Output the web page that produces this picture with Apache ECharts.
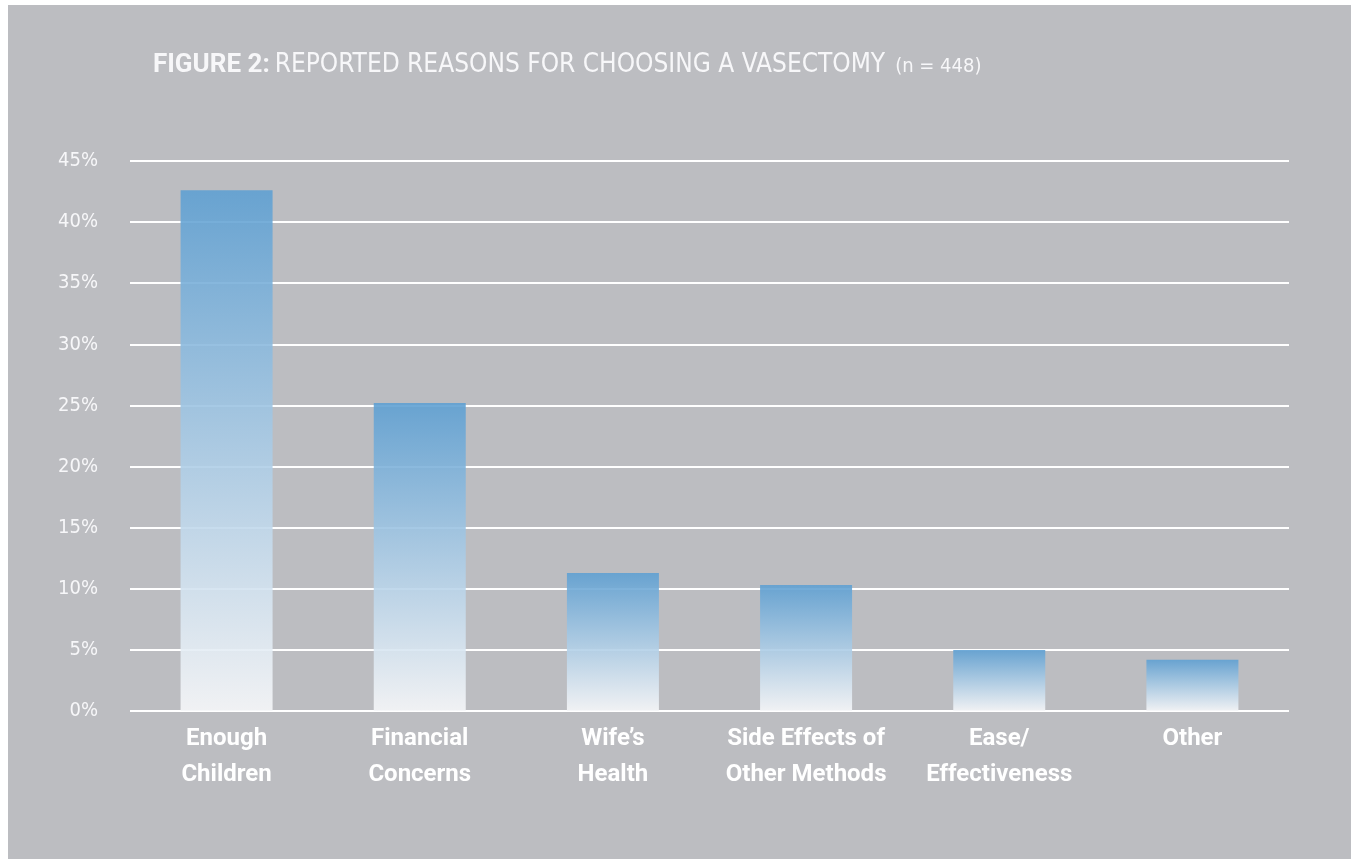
<!DOCTYPE html>
<html>
<head>
<meta charset="utf-8">
<title>Reported reasons for choosing a vasectomy</title>
<script src="https://cdn.jsdelivr.net/npm/echarts@6/dist/echarts.min.js"></script>
<style>
  html, body { margin: 0; padding: 0; background: #ffffff; }
  #wrap { position: relative; width: 1351px; height: 859px; background: #ffffff; overflow: hidden; }
  #chart { position: absolute; left: 8px; top: 5px; width: 1343px; height: 854px; }
</style>
</head>
<body>
<div id="wrap"><div id="chart"></div></div>
<script>
// Reasons given and share of respondents (%)
const categories = [
  'Enough\nChildren',
  'Financial\nConcerns',
  'Wife\u2019s\nHealth',
  'Side Effects of\nOther Methods',
  'Ease/\nEffectiveness',
  'Other'
];
const shares = [42.6, 25.2, 11.3, 10.3, 5.0, 4.2];
const yTicks = { min: 0, max: 45, step: 5 };

// Narrow face for regular text, Roboto for the bold headings
const FONT = "'DejaVu Sans Condensed', 'Liberation Sans', sans-serif";
const BOLD_FONT = "Roboto, 'Liberation Sans', sans-serif";
const TEXT = '#f7f7f9';

const chart = echarts.init(document.getElementById('chart'), null, { renderer: 'canvas' });

const barFill = new echarts.graphic.LinearGradient(0, 0, 0, 1, [
  { offset: 0, color: 'rgba(95,160,210,0.9)' },
  { offset: 1, color: 'rgba(246,247,249,0.9)' }
]);

chart.setOption({
  backgroundColor: '#bcbdc1',
  animation: false,
  title: {
    left: 145,
    top: 47,
    padding: 0,
    text: '{b|FIGURE 2:} {r|REPORTED REASONS FOR CHOOSING A VASECTOMY}  {s|(n = 448)}',
    textStyle: {
      rich: {
        b: { fontFamily: BOLD_FONT, fontSize: 26, fontWeight: 'bold', color: TEXT },
        r: { fontFamily: FONT, fontSize: 26, fontWeight: 'normal', color: TEXT },
        s: { fontFamily: FONT, fontSize: 20, fontWeight: 'normal', color: TEXT, padding: [3, 0, 0, 0] }
      }
    }
  },
  grid: { left: 122, right: 62, top: 156, bottom: 148, containLabel: false },
  xAxis: {
    type: 'category',
    data: categories,
    axisLine: { show: false },
    axisTick: { show: false },
    axisLabel: {
      interval: 0,
      margin: 10,
      verticalAlign: 'top',
      color: '#ffffff',
      fontFamily: BOLD_FONT,
      fontSize: 24,
      fontWeight: 'bold',
      lineHeight: 36
    }
  },
  yAxis: {
    type: 'value',
    min: yTicks.min,
    max: yTicks.max,
    interval: yTicks.step,
    axisLine: { show: false },
    axisTick: { show: false },
    axisLabel: {
      margin: 32,
      color: TEXT,
      fontFamily: FONT,
      fontSize: 20,
      formatter: '{value}%'
    },
    splitLine: { lineStyle: { color: '#ffffff', width: 2 } }
  },
  series: [{
    type: 'bar',
    data: shares,
    barWidth: 92,
    itemStyle: { color: barFill }
  }]
});
</script>
</body>
</html>
